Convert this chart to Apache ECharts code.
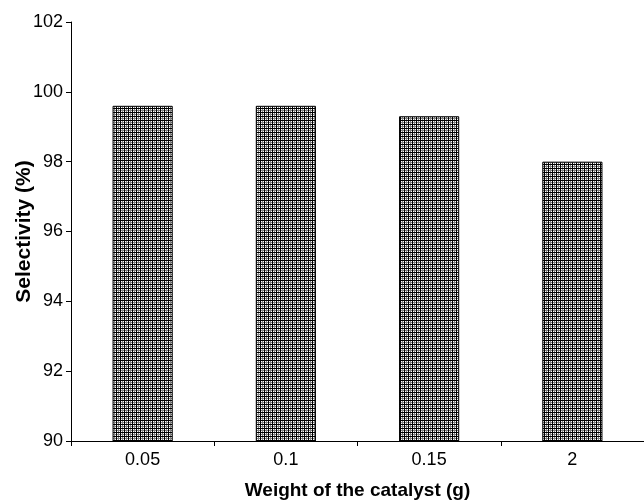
<!DOCTYPE html>
<html>
<head>
<meta charset="utf-8">
<script src="https://cdn.jsdelivr.net/npm/echarts@6/dist/echarts.min.js"></script>
<style>
html,body{margin:0;padding:0;background:#fff;}
#chart{width:644px;height:501px;}
</style>
</head>
<body>
<div id="chart"></div>
<script>
const categories = ['0.05', '0.1', '0.15', '2'];
const selectivity = [99.6, 99.6, 99.3, 98.0];
const xAxisTitle = 'Weight of the catalyst (g)';
const yAxisTitle = 'Selectivity (%)';

function makePattern() {
  const c = document.createElement('canvas');
  c.width = 4; c.height = 4;
  const g = c.getContext('2d');
  g.fillStyle = '#ffffff';
  g.fillRect(0, 0, 4, 4);
  g.fillStyle = '#808080';
  g.fillRect(2, 0, 1, 4);
  g.fillRect(0, 2, 4, 1);
  g.fillStyle = '#000000';
  g.fillRect(0, 0, 1, 4);
  g.fillRect(0, 0, 4, 1);
  return c;
}

const font = '"Liberation Sans", Arial, Helvetica, sans-serif';
const chart = echarts.init(document.getElementById('chart'), null, {renderer: 'canvas'});
chart.setOption({
  animation: false,
  backgroundColor: '#ffffff',
  grid: {left: 71, right: 0, top: 22, bottom: 60, containLabel: false, outerBoundsMode: 'none'},
  xAxis: {
    type: 'category',
    data: categories,
    name: xAxisTitle,
    nameLocation: 'middle',
    nameGap: 40,
    nameMoveOverlap: false,
    nameTextStyle: {fontFamily: font, fontSize: 19, fontWeight: 'bold', color: '#000'},
    axisLine: {lineStyle: {color: '#000', width: 1}},
    axisTick: {show: true, length: 5, lineStyle: {color: '#000'}},
    axisLabel: {fontFamily: font, fontSize: 18, color: '#000', margin: 10},
    splitLine: {show: false}
  },
  yAxis: {
    type: 'value',
    min: 90, max: 102, interval: 2,
    name: yAxisTitle,
    nameLocation: 'middle',
    nameGap: 36,
    nameMoveOverlap: false,
    nameTextStyle: {fontFamily: font, fontSize: 21, fontWeight: 'bold', color: '#000'},
    axisLine: {show: true, lineStyle: {color: '#000', width: 1}},
    axisTick: {show: true, length: 5, lineStyle: {color: '#000'}},
    axisLabel: {fontFamily: font, fontSize: 18, color: '#000', margin: 8},
    splitLine: {show: false}
  },
  series: [{
    type: 'bar',
    data: selectivity,
    barWidth: '42%',
    itemStyle: {
      color: {image: makePattern(), repeat: 'repeat'},
      borderColor: '#000',
      borderWidth: 1
    }
  }]
});
</script>
</body>
</html>
